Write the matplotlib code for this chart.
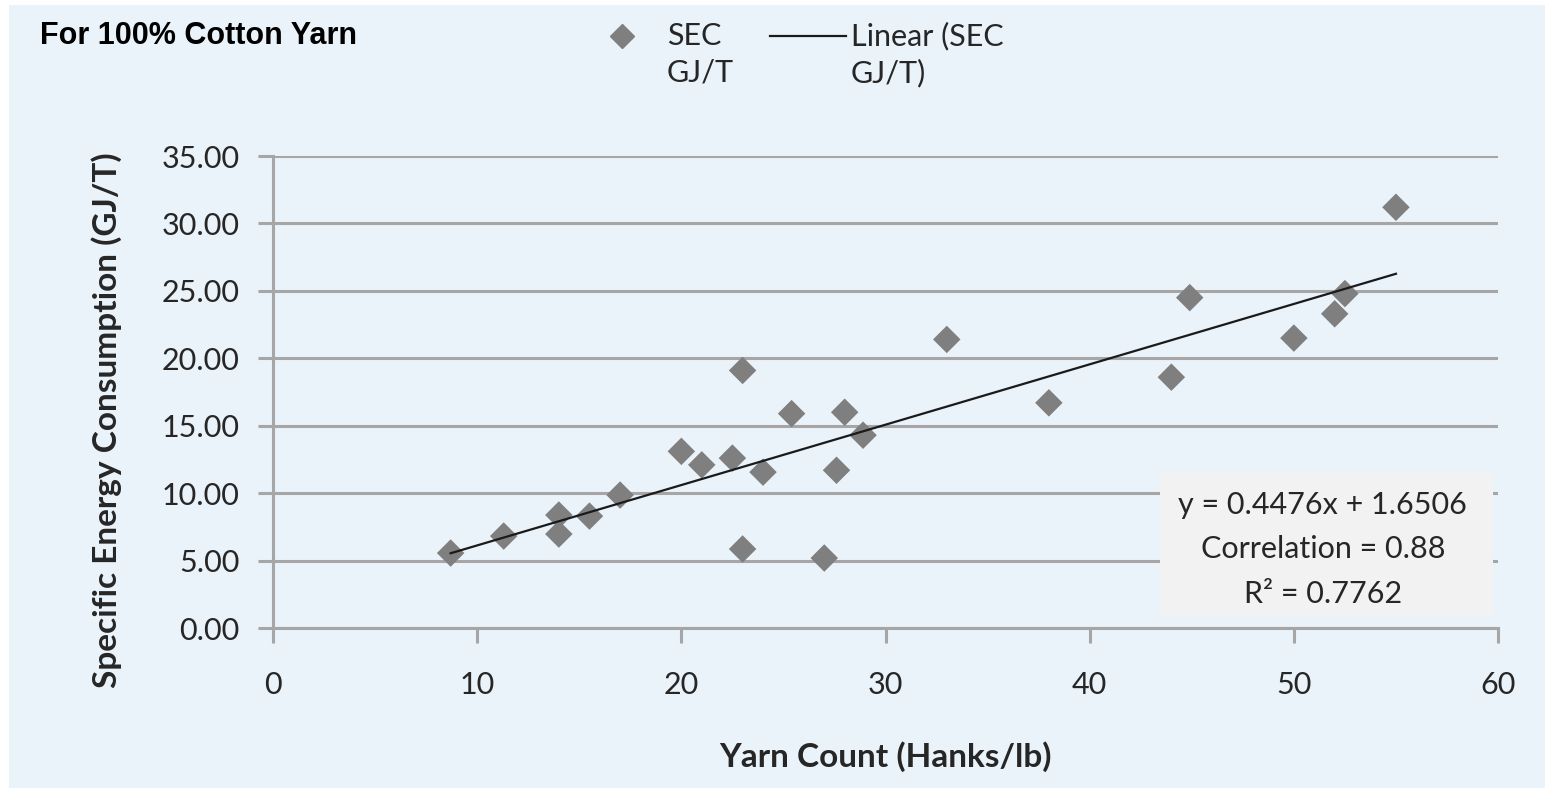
import matplotlib
matplotlib.use("Agg")
import matplotlib.pyplot as plt
from matplotlib.patches import Rectangle
from matplotlib.lines import Line2D

# yarn count (hanks/lb) vs specific energy consumption (GJ/T)
yarn_count = [8.7, 11.3, 14.0, 14.0, 15.5, 17.0, 20.0, 21.0, 22.5, 23.0, 23.0, 24.0,
              25.4, 27.0, 27.6, 28.0, 28.9, 33.0, 38.0, 44.0, 44.9, 50.0, 52.0, 52.5, 55.0]
sec_gjt = [5.56, 6.82, 8.38, 6.97, 8.30, 9.86, 13.1, 12.1, 12.6, 19.1, 5.86, 11.56,
           15.9, 5.19, 11.7, 16.0, 14.3, 21.4, 16.7, 18.6, 24.5, 21.5, 23.3, 24.8, 31.2]
slope, intercept = 0.4476, 1.6506
fit_lines = ["y = 0.4476x + 1.6506", "Correlation = 0.88", "R\u00b2 = 0.7762"]
y_ticks = [0, 5, 10, 15, 20, 25, 30, 35]
x_ticks = [0, 10, 20, 30, 40, 50, 60]

bg = "#EAF2FA"
grid_col = "#A6A6A6"
txt_col = "#262626"
marker_col = "#7F7F7F"
line_col = "#1A1A1A"
plt.rcParams["font.family"] = ["Lato", "DejaVu Sans"]

fig = plt.figure(figsize=(15.45, 7.88), dpi=100)
fig.patch.set_facecolor("white")
fig.add_artist(Rectangle((9 / 1545, 0), 1, 1 - 5 / 788, transform=fig.transFigure,
                         facecolor=bg, edgecolor="none", zorder=-10))

ax = fig.add_axes([0.1767, 0.2030, 0.7929, 0.5990])
ax.patch.set_alpha(0)

ax.scatter(yarn_count, sec_gjt, marker="D", s=14 ** 2, color=marker_col,
           edgecolors="none", zorder=3)
x0, x1 = min(yarn_count), max(yarn_count)
ax.plot([x0, x1], [slope * x0 + intercept, slope * x1 + intercept], color=line_col,
        lw=1.6, zorder=4)

ax.set_xlim(0, 60)
ax.set_ylim(0, 35)
ax.set_yticks(y_ticks)
ax.set_yticklabels([f"{v:.2f}" for v in y_ticks])
ax.set_xticks(x_ticks)
ax.yaxis.grid(True, color=grid_col, lw=2.2)
ax.set_axisbelow(True)
for s in ["top", "right"]:
    ax.spines[s].set_visible(False)
for s in ["left", "bottom"]:
    ax.spines[s].set_color(grid_col)
    ax.spines[s].set_linewidth(2.2)
ax.tick_params(axis="y", length=11, width=2.2, color=grid_col, labelsize=22,
               labelcolor=txt_col, pad=13)
ax.tick_params(axis="x", length=11, width=2.2, color=grid_col, labelsize=22,
               labelcolor=txt_col, pad=20)

ax.set_xlabel("Yarn Count (Hanks/lb)", fontsize=24, fontweight="bold", color=txt_col, labelpad=30)
ax.set_ylabel("Specific Energy Consumption (GJ/T)", fontsize=24, fontweight="bold",
              color=txt_col)
ax.yaxis.set_label_coords(-0.123, 0.44)

# regression info box
ax.add_patch(Rectangle((0.724, 0.0233), 0.272, 0.305, transform=ax.transAxes,
                       facecolor="#F2F2F2", edgecolor="none", zorder=5))
for line, yy in zip(fit_lines, [0.261, 0.167, 0.072]):
    ax.text(0.857, yy, line, transform=ax.transAxes, ha="center", va="center",
            fontsize=22, color=txt_col, zorder=6)

fig.text(40 / 1545, 1 - 36 / 788, "For 100% Cotton Yarn", fontsize=22, fontweight="bold",
         family=["Liberation Sans"], va="center", ha="left", color="black")

# legend, handles level with the first line of each label
def fx(px):
    return px / 1545

def fy(py):
    return 1 - py / 788

fig.add_artist(Line2D([fx(622)], [fy(36)], marker="D", ls="none", color=marker_col,
                      markersize=12, transform=fig.transFigure))
fig.add_artist(Line2D([fx(770), fx(846)], [fy(36), fy(36)], color=line_col, lw=1.6,
                      transform=fig.transFigure))
fig.text(fx(667), fy(22), "SEC\nGJ/T", fontsize=22, color=txt_col, va="top", ha="left",
         linespacing=1.35)
fig.text(fx(851), fy(22), "Linear (SEC\nGJ/T)", fontsize=22, color=txt_col, va="top",
         ha="left", linespacing=1.35)

fig.savefig("out.png", dpi=100, facecolor=fig.get_facecolor())
